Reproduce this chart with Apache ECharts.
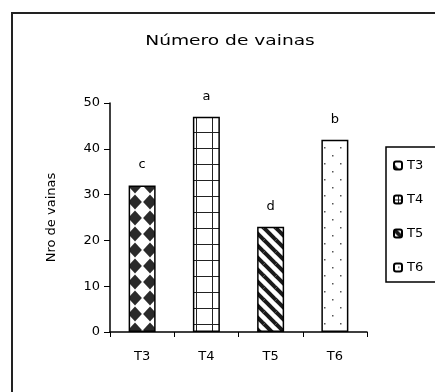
<!DOCTYPE html>
<html>
<head>
<meta charset="utf-8">
<script src="https://cdn.jsdelivr.net/npm/echarts@6/dist/echarts.min.js"></script>
<style>
  html, body { margin: 0; padding: 0; background: #fff; }
  #chart { width: 435px; height: 392px; }
</style>
</head>
<body>
<div id="chart"></div>
<script>
// datos
var categories = ['T3', 'T4', 'T5', 'T6'];
var values = [32, 47, 23, 42];
var letters = ['c', 'a', 'd', 'b'];
var yTicks = [0, 10, 20, 30, 40, 50];

var FONT = 'DejaVu Sans';

// tramas de relleno (como en Excel), desplazadas dentro del mosaico
function tile(w, h, ox, oy, draw) {
    var c = document.createElement('canvas');
    c.width = w;
    c.height = h;
    var ctx = c.getContext('2d');
    ctx.fillStyle = '#fff';
    ctx.fillRect(0, 0, w, h);
    for (var i = -1; i <= 1; i++) {
        for (var j = -1; j <= 1; j++) {
            ctx.save();
            ctx.translate(ox + i * w, oy + j * h);
            draw(ctx, w, h);
            ctx.restore();
        }
    }
    return c;
}

function diamonds(ctx, w, h) {
    ctx.fillStyle = '#2a2a2a';
    var rx = w / 2 - 0.6, ry = h / 2 - 0.6;
    ctx.beginPath();
    ctx.moveTo(0, -ry);
    ctx.lineTo(rx, 0);
    ctx.lineTo(0, ry);
    ctx.lineTo(-rx, 0);
    ctx.closePath();
    ctx.fill();
}

function grid(ctx, w, h) {
    ctx.fillStyle = '#222';
    ctx.fillRect(0, 0, w, 1);
    ctx.fillRect(0, 0, 1, h);
}

function stripes(ctx, w, h) {
    ctx.strokeStyle = '#1a1a1a';
    ctx.lineWidth = 4;
    ctx.beginPath();
    ctx.moveTo(0, 0);
    ctx.lineTo(w, h);
    ctx.stroke();
}

function dots(ctx, w, h) {
    ctx.fillStyle = '#555';
    ctx.fillRect(0, 0, 1.5, 1.5);
    ctx.fillRect(w / 2, h / 2, 1.5, 1.5);
}

var patterns = [
    { image: tile(15, 16, 0, 10, diamonds), repeat: 'repeat' },
    { image: tile(16, 16, 4, 4, grid), repeat: 'repeat' },
    { image: tile(12, 12, 0, 0, stripes), repeat: 'repeat' },
    { image: tile(16, 16, 4, 3, dots), repeat: 'repeat' }
];

var series = categories.map(function (name, i) {
    return {
        name: name,
        type: 'bar',
        stack: 'total',
        barWidth: 27,
        itemStyle: {
            color: patterns[i],
            borderColor: '#000',
            borderWidth: 1.5
        },
        label: {
            show: true,
            position: 'top',
            distance: 14,
            color: '#000',
            fontFamily: FONT,
            fontSize: 13,
            formatter: function () { return letters[i]; }
        },
        data: categories.map(function (c, j) { return j === i ? values[i] : '-'; })
    };
});

var myChart = echarts.init(document.getElementById('chart'));
var option = {
    animation: false,
    backgroundColor: '#fff',
    graphic: [{
        type: 'rect',
        shape: { x: 12, y: 13, width: 600, height: 600 },
        style: { fill: 'none', stroke: '#222', lineWidth: 2 },
        silent: true
    }, {
        // titulo (ensanchado como la fuente de Excel)
        type: 'text',
        x: 230,
        y: 41,
        originX: 0,
        scaleX: 1.33,
        style: {
            text: 'Número de vainas',
            fontFamily: FONT,
            fontSize: 14,
            fill: '#000',
            textAlign: 'center',
            textVerticalAlign: 'middle'
        },
        silent: true
    }],
    legend: {
        orient: 'vertical',
        left: 386,
        top: 147,
        padding: [12, 60, 8, 7],
        itemGap: 21,
        itemWidth: 8,
        itemHeight: 8,
        borderColor: '#000',
        borderWidth: 1.5,
        textStyle: { fontFamily: FONT, fontSize: 13, color: '#000' },
        data: categories
    },
    grid: {
        left: 110,
        right: 68,
        top: 103,
        bottom: 60
    },
    xAxis: {
        type: 'category',
        data: categories,
        axisLine: { lineStyle: { color: '#000', width: 1.5 } },
        axisTick: { show: true, length: 5, interval: 0, lineStyle: { color: '#000' } },
        axisLabel: { margin: 18, color: '#000', fontFamily: FONT, fontSize: 13 }
    },
    yAxis: {
        type: 'value',
        min: yTicks[0],
        max: yTicks[yTicks.length - 1],
        interval: yTicks[1] - yTicks[0],
        name: 'Nro de vainas',
        nameLocation: 'middle',
        nameGap: 52,
        nameTextStyle: { fontFamily: FONT, fontSize: 13, color: '#000' },
        axisLine: { show: true, lineStyle: { color: '#000', width: 1.5 } },
        axisTick: { show: true, length: 6, lineStyle: { color: '#000' } },
        axisLabel: { margin: 10, color: '#000', fontFamily: FONT, fontSize: 13 },
        splitLine: { show: false }
    },
    series: series
};
myChart.setOption(option);
</script>
</body>
</html>
